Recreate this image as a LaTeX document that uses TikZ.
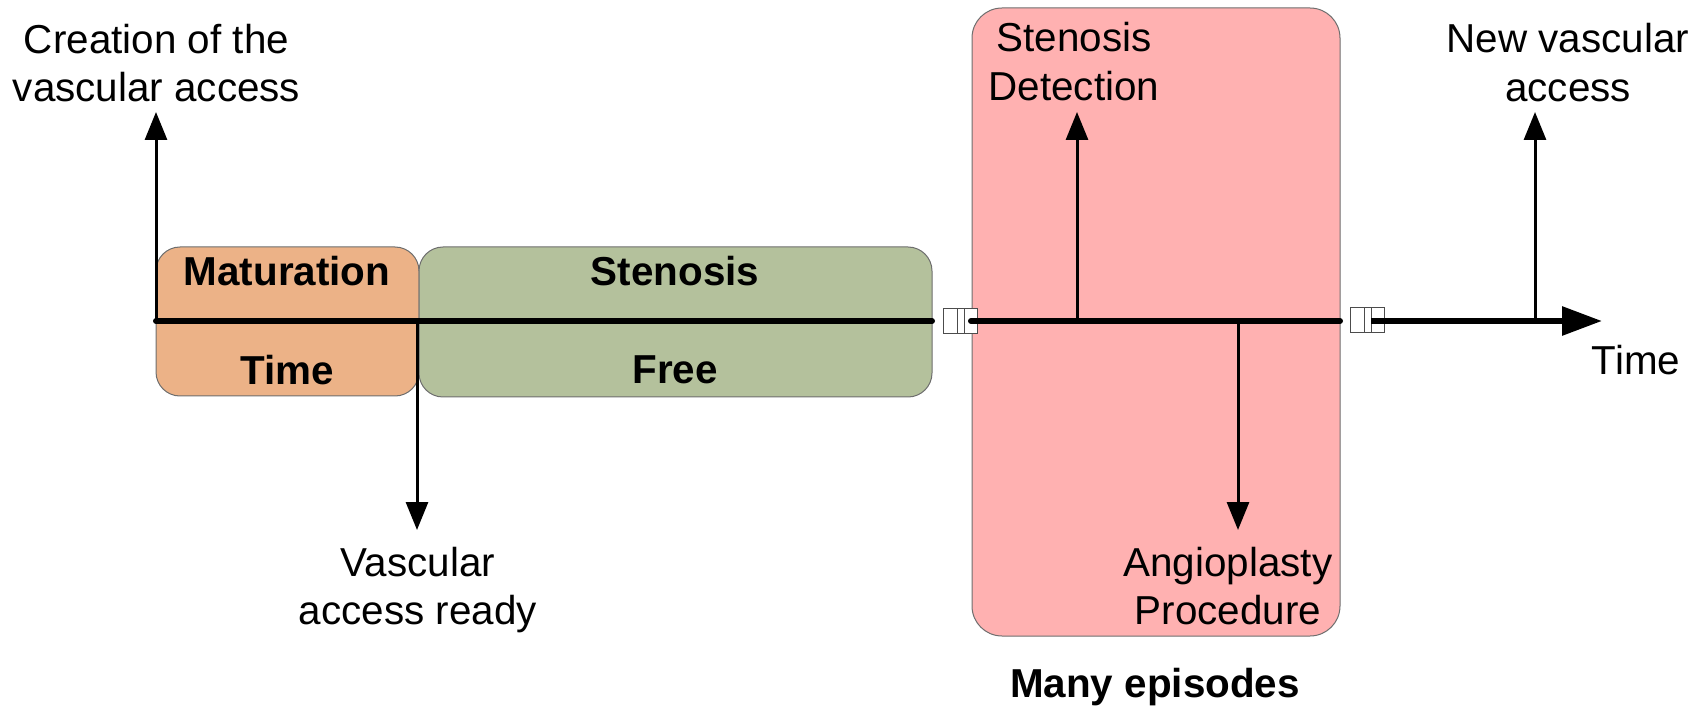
\documentclass[tikz,border=0pt]{standalone}
\usepackage{fontspec}
\setmainfont{Liberation Sans}
\usetikzlibrary{arrows.meta}
\definecolor{matc}{RGB}{236,178,135}
\definecolor{freec}{RGB}{180,193,156}
\definecolor{epic}{RGB}{255,177,177}
\definecolor{edgec}{RGB}{110,110,110}
\tikzset{
  phase/.style={draw=edgec, line width=0.5pt, rounded corners=12pt},
  lbl/.style={inner sep=0pt, align=center, font=\fontsize{20.2}{24.2}\selectfont},
  blbl/.style={inner sep=0pt, align=center, font=\fontsize{20.2}{24.2}\selectfont\bfseries},
  axis/.style={line width=3pt, line cap=round},
  evt/.style={line width=1.5pt, -{Triangle[length=14pt,width=11pt]}},
  brk/.style={draw=black!70, line width=0.5pt, fill=white}
}
\begin{document}
\begin{tikzpicture}[x=0.5pt,y=-0.5pt]
\useasboundingbox (0,0) rectangle (1704,711);
% boxes
\draw[phase, fill=matc] (156,247) rectangle (419,396);
\draw[phase, fill=freec] (419,247) rectangle (932,397);
\draw[phase, fill=epic, rounded corners=15pt] (972,8) rectangle (1340,636);
% coordinates
\coordinate (a0) at (156,321);
\coordinate (a1) at (932,321);
\coordinate (b0) at (971,321);
\coordinate (b1) at (1340,321);
\coordinate (c0) at (1371,321);
\coordinate (c1) at (1602,321);
\coordinate (ready) at (417,321);
\coordinate (det) at (1077,321);
\coordinate (ang) at (1238,321);
\coordinate (newa) at (1535,321);
% labels
\node[blbl] (mat) at (287,271) {Maturation};
\node[blbl] (mtime) at (287,370) {Time};
\node[blbl] (sten) at (675,271) {Stenosis};
\node[blbl] (free) at (675,370) {Free};
\node[lbl, anchor=south] (creat) at (156.5,102.5) {Creation of the\\vascular access};
\node[lbl, anchor=north] (vready) at (418,546.5) {Vascular\\access ready};
\node[lbl, anchor=south] (sdet) at (1074,101) {Stenosis\\Detection};
\node[lbl, anchor=north] (angio) at (1228,546.5) {Angioplasty\\Procedure};
\node[lbl, anchor=south] (newv) at (1568,102) {New vascular\\access};
\node[lbl] (time) at (1636,360) {Time};
\node[blbl] (many) at (1155,687) {Many episodes};
% breaks
\draw[brk] (943,309) rectangle (977,334);
\draw[brk] (957,309) -- (957,334) (964,309) -- (964,334);
\draw[brk] (1350,308) rectangle (1384,333);
\draw[brk] (1364,308) -- (1364,333) (1371,308) -- (1371,333);
% axis
\draw[axis] (a0) -- (a1);
\draw[axis] (b0) -- (b1);
\draw[line width=3pt, -{Triangle[length=20pt,width=14pt]}] (c0) -- (c1);
% events
\draw[evt] (a0) -- (156,112);
\draw[evt] (ready) -- (417,530);
\draw[evt] (det) -- (1077,112);
\draw[evt] (ang) -- (1238,530);
\draw[evt] (newa) -- (1535,112);
\end{tikzpicture}
\end{document}
